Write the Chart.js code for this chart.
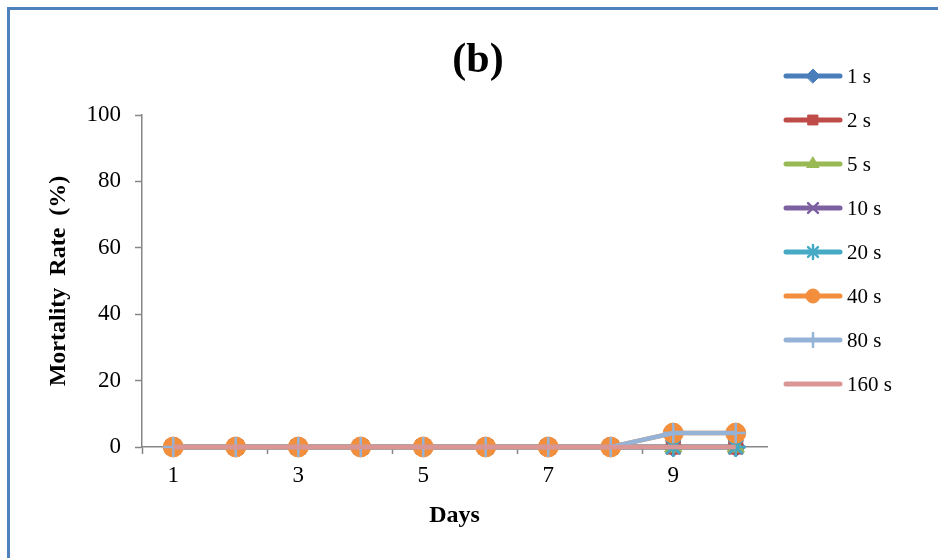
<!DOCTYPE html>
<html>
<head>
<meta charset="utf-8">
<script src="https://cdn.jsdelivr.net/npm/chart.js@4"></script>
<style>
  body { margin: 0; background: #fff; }
  #wrap { position: relative; width: 938px; height: 558px; }
</style>
</head>
<body>
<div id="wrap"><canvas id="myChart"></canvas></div>
<script>
// data
const days = ["1", "2", "3", "4", "5", "6", "7", "8", "9", "10"];
const seriesNames = ["1 s", "2 s", "5 s", "10 s", "20 s", "40 s", "80 s", "160 s"];
const s1 = [0, 0, 0, 0, 0, 0, 0, 0, 0, 0];
const s2 = [0, 0, 0, 0, 0, 0, 0, 0, 0, 0];
const s5 = [0, 0, 0, 0, 0, 0, 0, 0, 0, 0];
const s10 = [0, 0, 0, 0, 0, 0, 0, 0, 0, 0];
const s20 = [0, 0, 0, 0, 0, 0, 0, 0, 0, 0];
const s40 = [0, 0, 0, 0, 0, 0, 0, 0, 4.2, 4.2];
const s80 = [0, 0, 0, 0, 0, 0, 0, 0, 4.2, 4.2];
const s160 = [0, 0, 0, 0, 0, 0, 0, 0, 0, 0];
const yTicks = [0, 20, 40, 60, 80, 100];

// styles
const colors = ["#4A7EBB", "#BE4B48", "#98B954", "#7D60A0", "#46AAC5", "#F28E3C", "#95B3D7", "#D99694"];
const markers = ["rectRot", "rect", "triangle", "crossRot", "star", "circle", "cross", false];
const FONT = "'Liberation Serif', 'Times New Roman', serif";
const AXIS = "#868686";

const allValues = [s1, s2, s5, s10, s20, s40, s80, s160];

let datasets = seriesNames.map((name, i) => ({
  label: name,
  data: allValues[i],
  order: seriesNames.length - i, // later series drawn on top, like the original
  borderColor: colors[i],
  backgroundColor: colors[i],
  borderWidth: 4.5,
  pointStyle: markers[i],
  pointRadius: markers[i] ? 10 : 0,
  pointBorderWidth: (markers[i] == "crossRot" || markers[i] == "star" || markers[i] == "cross") ? 2.5 : 1,
  pointBackgroundColor: colors[i],
  pointBorderColor: colors[i],
  tension: 0,
  clip: false
}));

// frame around the figure
const framePlugin = {
  id: "frame",
  beforeDraw(chart) {
    const c = chart.ctx;
    c.save();
    c.fillStyle = "#fff";
    c.fillRect(0, 0, chart.width, chart.height);
    c.strokeStyle = "#4F81BD";
    c.lineWidth = 3;
    c.strokeRect(8.5, 8.5, 1200, 1200);
    c.restore();
  }
};

// title and office-like legend (line + marker)
const sidePlugin = {
  id: "side",
  afterDraw(chart) {
    const c = chart.ctx;
    c.save();
    c.fillStyle = "#000";
    c.font = "bold 42px " + FONT;
    c.textAlign = "center";
    c.textBaseline = "alphabetic";
    c.fillText("(b)", 478, 72);

    c.font = "21px " + FONT;
    c.textAlign = "left";
    c.textBaseline = "middle";
    chart.data.datasets.forEach((ds, i) => {
      const y = 76 + i * 44;
      c.strokeStyle = ds.borderColor;
      c.lineWidth = 5;
      c.lineCap = "round";
      c.beginPath();
      c.moveTo(786, y);
      c.lineTo(840, y);
      c.stroke();
      if (ds.pointStyle) {
        c.fillStyle = ds.pointBackgroundColor;
        c.strokeStyle = ds.pointBorderColor;
        c.lineWidth = ds.pointBorderWidth;
        Chart.helpers.drawPoint(c, {
          pointStyle: ds.pointStyle,
          radius: 7,
          rotation: 0,
          borderWidth: ds.pointBorderWidth
        }, 813, y);
      }
      c.fillStyle = "#000";
      c.fillText(ds.label, 847, y + 1);
    });
    c.restore();
  }
};

const ctx = document.getElementById("myChart").getContext("2d");
const myChart = new Chart(ctx, {
  type: "line",
  data: { labels: days, datasets: datasets },
  options: {
    responsive: true,
    maintainAspectRatio: false,
    animation: false,
    layout: { padding: { left: 0, right: 171, top: 115, bottom: 0 } },
    plugins: {
      legend: { display: false },
      title: { display: false },
      tooltip: { enabled: false }
    },
    scales: {
      x: {
        offset: true,
        afterFit: s => { s.height = 111; },
        border: { color: AXIS, width: 1.5 },
        grid: {
          offset: true,
          drawOnChartArea: false,
          tickLength: 7,
          tickWidth: 1.5,
          tickColor: c => (c.index % 2 == 0 ? AXIS : "rgba(0,0,0,0)")
        },
        ticks: {
          autoSkip: false,
          maxRotation: 0,
          color: "#000",
          padding: 8,
          font: { family: FONT, size: 23 },
          callback: (v, i) => (i % 2 == 0 ? days[i] : "")
        },
        title: {
          display: true,
          text: "Days",
          color: "#000",
          font: { family: FONT, size: 24, weight: "bold" },
          padding: { top: 0, bottom: 28 }
        }
      },
      y: {
        min: 0,
        max: 100,
        afterFit: s => { s.width = 142; },
        afterBuildTicks: s => { s.ticks = yTicks.map(v => ({ value: v })); },
        border: { color: AXIS, width: 1.5 },
        grid: {
          drawOnChartArea: false,
          tickLength: 7,
          tickWidth: 1.5,
          tickColor: AXIS
        },
        ticks: {
          color: "#000",
          padding: 14,
          font: { family: FONT, size: 23 }
        },
        title: {
          display: true,
          text: "Mortality  Rate  (%)",
          color: "#000",
          font: { family: FONT, size: 24, weight: "bold" },
          padding: { top: 44, bottom: 0 }
        }
      }
    }
  },
  plugins: [framePlugin, sidePlugin]
});
</script>
</body>
</html>
